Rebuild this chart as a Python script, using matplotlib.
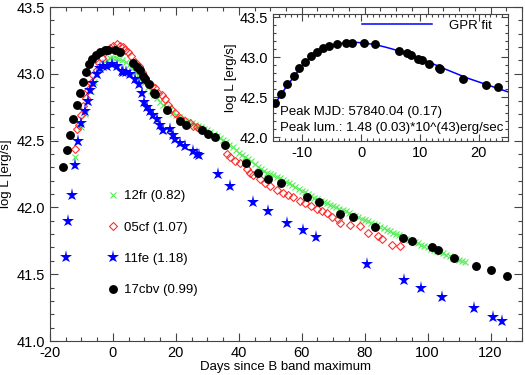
import matplotlib
matplotlib.use("Agg")
import matplotlib.pyplot as plt
from matplotlib.ticker import MultipleLocator

plt.rcParams['font.family'] = ['Liberation Sans', 'DejaVu Sans']
plt.rcParams['font.size'] = 9.5
plt.rcParams['xtick.labelsize'] = 10.5
plt.rcParams['ytick.labelsize'] = 10.5
plt.rcParams['axes.unicode_minus'] = False

# ---------------- data ----------------
# SN 2012fr (12fr), green crosses
d_12fr = [-12, -11, -10, -9, -8, -7, -6, -5, -4, -3, -2, -1, 0, 1, 2, 3, 4, 5, 6, 7, 8, 9,
          10, 11, 12, 13, 14, 15, 16, 17, 18, 19, 20, 21, 22, 23, 24, 25, 26, 27, 28, 29,
          30, 31, 32, 33, 34, 35, 36, 37, 38, 39, 40, 41, 42, 43, 44, 45, 46, 47, 48, 49,
          50, 51, 52, 53, 54, 55, 56, 57, 58, 59, 60, 61, 62, 63, 64, 65, 66, 67, 68, 69,
          70, 71, 72, 73, 74, 75, 76, 77, 78, 79, 80, 81, 82, 83, 84, 85, 86, 87, 88, 89,
          90, 91, 92, 93, 94, 95, 96, 97, 98, 99, 100, 101, 102, 103, 104, 105, 106, 107,
          108, 109, 110, 111, 112]
L_12fr = [42.38, 42.49, 42.60, 42.70, 42.79, 42.87, 42.94, 43.00, 43.04, 43.08, 43.10, 43.115,
          43.12, 43.12, 43.11, 43.10, 43.085, 43.065, 43.04, 43.015, 42.99, 42.96,
          42.93, 42.90, 42.87, 42.845, 42.82, 42.79, 42.77, 42.75, 42.73, 42.71,
          42.695, 42.68, 42.665, 42.65, 42.64, 42.63, 42.62, 42.61, 42.60, 42.59,
          42.58, 42.565, 42.55, 42.535, 42.52, 42.505, 42.49, 42.47, 42.45, 42.43,
          42.41, 42.395, 42.38, 42.365, 42.345, 42.325, 42.305, 42.29, 42.275, 42.26,
          42.25, 42.24, 42.23, 42.22, 42.205, 42.19, 42.18, 42.165, 42.15, 42.14,
          42.125, 42.115, 42.10, 42.085, 42.07, 42.06, 42.05, 42.04, 42.03, 42.02,
          42.01, 42.00, 41.99, 41.98, 41.97, 41.955, 41.945, 41.935, 41.925, 41.915,
          41.905, 41.895, 41.885, 41.875, 41.865, 41.855, 41.845, 41.83, 41.82, 41.81,
          41.80, 41.79, 41.775, 41.765, 41.755, 41.745, 41.74, 41.73, 41.72, 41.71,
          41.70, 41.69, 41.68, 41.675, 41.665, 41.655, 41.645, 41.635,
          41.625, 41.615, 41.605, 41.60, 41.59]

# SN 2005cf (05cf), red open diamonds
d_05cf = [-12.1, -11.3, -10.8, -10.0, -9.4, -8.6, -7.8, -7.1, -6.3, -5.2, -4.3, -3.6, -2.5,
          -1.8, -1.0, 0.1, 1.2, 2.2, 3.1, 3.8, 4.9, 5.9, 7.0, 8.4, 9.1, 10.2, 11.2, 12.3,
          13.4, 14.4, 15.5, 16.5, 17.6, 18.6, 19.7, 21.3, 22.9, 24.5, 25.5, 26.6, 27.6,
          36.1, 37.2, 38.8, 40.4, 42.5, 43.5, 44.6, 46.7, 48.3, 49.9, 52.0, 54.1, 55.7,
          57.3, 59.4, 61.0, 63.1, 64.8, 66.3, 67.9, 69.5, 71.6, 72.1, 75.3, 78.5, 81.1,
          84.3, 85.4, 88.6, 91.2]
L_05cf = [42.44, 42.59, 42.62, 42.69, 42.76, 42.82, 42.88, 42.93, 42.99, 43.03, 43.08, 43.12,
          43.16, 43.18, 43.19, 43.21, 43.22, 43.21, 43.20, 43.18, 43.16, 43.13, 43.09, 43.06,
          43.01, 42.97, 42.93, 42.91, 42.89, 42.86, 42.84, 42.81, 42.77, 42.74, 42.71, 42.67,
          42.65, 42.63, 42.61, 42.60, 42.59,
          42.40, 42.38, 42.35, 42.33, 42.29, 42.26, 42.24, 42.21, 42.18, 42.16, 42.13,
          42.11, 42.09, 42.08, 42.05, 42.03, 42.01, 41.99, 41.975, 41.96, 41.93, 41.91,
          41.885, 41.87, 41.86, 41.81, 41.785, 41.76, 41.72, 41.71]

# SN 2011fe (11fe), blue stars
d_11fe = [-15.0, -14.2, -13.1, -12.1, -11.0, -10.2, -8.9, -8.0, -7.3, -6.3, -5.2, -4.1, -3.1,
          -2.0, -0.4, 1.2, 2.8, 3.3, 4.3, 5.4, 7.0, 8.4, 9.1, 9.9, 10.7, 11.8, 12.8, 13.9,
          14.9, 16.0, 18.1, 19.0, 19.7, 21.3, 22.9, 25.3, 26.6, 27.4, 33.5, 37.2, 44.4,
          49.2, 55.3, 60.4, 64.5, 80.6, 92.5, 97.8, 104.6, 114.8, 120.8, 123.8]
L_11fe = [41.63, 41.90, 42.09, 42.32, 42.50, 42.63, 42.72, 42.80, 42.88, 42.93, 43.00, 43.04,
          43.06, 43.06, 43.07, 43.06, 43.02, 43.01, 43.01, 43.00, 42.96, 42.92, 42.86, 42.79,
          42.75, 42.72, 42.69, 42.66, 42.62, 42.58, 42.59, 42.54, 42.51, 42.48, 42.46, 42.42,
          42.40, 42.39, 42.25, 42.16, 42.04, 41.97, 41.88, 41.83, 41.78, 41.58, 41.46, 41.40,
          41.33, 41.25, 41.18, 41.15]

# SN 2017cbv (17cbv), black filled circles
d_17cbv = [-15.8, -14.7, -13.6, -12.6, -11.5, -10.6, -9.6, -8.6, -7.5, -6.5, -5.5, -4.1, -2.6,
           -1.6, 0.5, 2.4, 6.4, 7.8, 8.5, 9.7, 10.3, 11.6, 13.2, 13.4, 17.3, 21.3, 23.3, 28.3,
           30.3, 32.4, 35.5, 42.4, 46.1, 49.4, 53.4, 61.7, 65.4, 72.1, 76.4, 83.3, 92.3, 95.2,
           101.3, 103.4, 108.5, 115.4, 120.3, 125.3]
L_17cbv = [42.30, 42.43, 42.54, 42.66, 42.77, 42.86, 42.94, 43.01, 43.07, 43.11, 43.14, 43.16,
           43.18, 43.18, 43.18, 43.16, 43.08, 43.05, 43.03, 42.98, 42.96, 42.92, 42.86, 42.85,
           42.73, 42.65, 42.62, 42.58, 42.55, 42.53, 42.47, 42.33, 42.26, 42.21, 42.18, 42.08,
           42.04, 41.95, 41.93, 41.85, 41.77, 41.75, 41.70, 41.68, 41.62, 41.56, 41.53, 41.49]

# GPR fit to 17cbv
d_gpr = [-15, -14, -13, -12, -11, -10, -9, -8, -7, -6, -5, -4, -3, -2, -1, 0, 1, 2, 3, 4, 5,
         6, 7, 8, 9, 10, 11, 12, 13, 14, 15, 16, 17, 18, 19, 20, 21, 22, 23, 24, 25]
L_gpr = [42.38, 42.49, 42.60, 42.70, 42.80, 42.89, 42.97, 43.03, 43.08, 43.12, 43.145, 43.165,
         43.178, 43.185, 43.185, 43.18, 43.172, 43.16, 43.145, 43.128, 43.108, 43.087, 43.064,
         43.04, 43.013, 42.985, 42.955, 42.923, 42.892, 42.86, 42.83, 42.80, 42.77, 42.74,
         42.715, 42.69, 42.665, 42.64, 42.615, 42.59, 42.565]

labels = ['12fr (0.82)', '05cf (1.07)', '11fe (1.18)', '17cbv (0.99)']
peak_text = ['Peak MJD: 57840.04 (0.17)', 'Peak lum.: 1.48 (0.03)*10^(43)erg/sec']

# ---------------- figure ----------------
W, H = 525, 375
fig = plt.figure(figsize=(W / 100, H / 100), dpi=100)
ax = fig.add_axes([50 / W, 34 / H, 472 / W, 334 / H])

green = '#55ee55'
red = '#ff3030'
blue = '#0000ff'

ax.plot(d_12fr, L_12fr, ls='none', marker='x', ms=4.6, mew=0.8, color=green, label=labels[0])
ax.plot(d_05cf, L_05cf, ls='none', marker='D', ms=4.2, mew=0.8, mfc='none', mec=red, label=labels[1])
ax.plot(d_11fe, L_11fe, ls='none', marker='*', ms=9.5, mew=0, color=blue, label=labels[2])
ax.plot(d_17cbv, L_17cbv, ls='none', marker='o', ms=6.4, mew=0, color='black', label=labels[3])

ax.set_xlim(-20, 130)
ax.set_ylim(41.0, 43.5)
ax.xaxis.set_major_locator(MultipleLocator(20))
ax.xaxis.set_minor_locator(MultipleLocator(5))
ax.yaxis.set_major_locator(MultipleLocator(0.5))
ax.yaxis.set_minor_locator(MultipleLocator(0.1))
ax.yaxis.set_major_formatter(plt.FormatStrFormatter('%.1f'))
ax.set_xlabel('Days since B band maximum', labelpad=1)
ax.set_ylabel('log L [erg/s]', labelpad=3)

def style(a):
    for s in a.spines.values():
        s.set_color('#444444')
        s.set_linewidth(0.8)
    a.tick_params(which='both', direction='in', top=True, right=True, color='#444444', width=0.8)
    a.tick_params(which='major', length=6)
    a.tick_params(which='minor', length=3)

style(ax)

leg = ax.legend(loc='upper left', bbox_to_anchor=((106.4 - 50) / 472, (341 - 190) / 334),
                frameon=False, numpoints=1, handlelength=1.0, handletextpad=0.3,
                borderpad=0, borderaxespad=0, labelspacing=1.45)

# ---------------- inset ----------------
ins = fig.add_axes([273 / W, 234 / H, 235 / W, 127 / H])
ins.set_facecolor('white')
ins.plot(d_gpr, L_gpr, color=blue, lw=1.1, label='GPR fit', zorder=2)
ins.plot(d_17cbv, L_17cbv, ls='none', marker='o', ms=6.4, mew=0, color='black', zorder=3)
ins.set_xlim(-15, 25)
ins.set_ylim(41.95, 43.54)
ins.xaxis.set_major_locator(MultipleLocator(10))
ins.xaxis.set_minor_locator(MultipleLocator(1))
ins.yaxis.set_major_locator(MultipleLocator(0.5))
ins.yaxis.set_minor_locator(MultipleLocator(0.1))
ins.yaxis.set_major_formatter(plt.FormatStrFormatter('%.1f'))
ins.set_ylabel('log L [erg/s]', labelpad=2)
style(ins)
ins.tick_params(which='major', length=5)
ins.tick_params(which='minor', length=2.5)
ins.legend(loc='center left', bbox_to_anchor=(0.379, 0.906), frameon=False,
           handlelength=5.3, handletextpad=1.3, borderpad=0, borderaxespad=0)
ins.text(0.03, 0.228, peak_text[0], transform=ins.transAxes, va='center', ha='left')
ins.text(0.03, 0.102, peak_text[1], transform=ins.transAxes, va='center', ha='left')

fig.savefig('out.png', dpi=100)
